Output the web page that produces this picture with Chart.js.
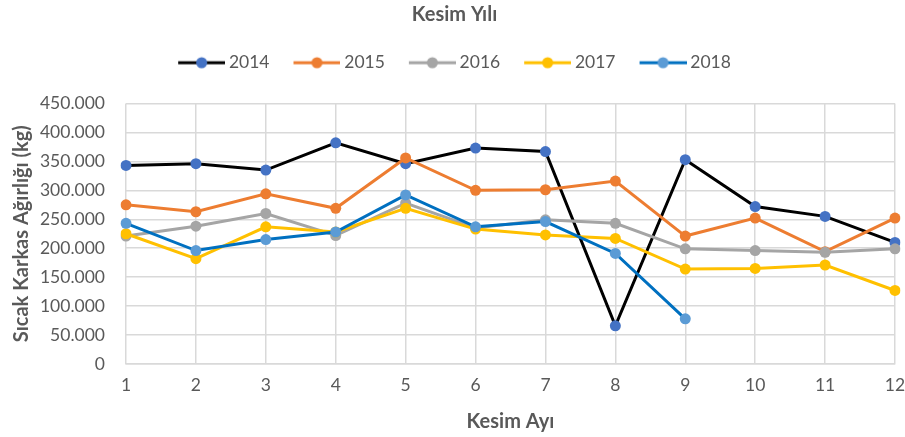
<!DOCTYPE html>
<html>
<head>
<meta charset="utf-8">
<script src="https://cdn.jsdelivr.net/npm/chart.js@4/dist/chart.umd.min.js"></script>
<style>
  html, body { margin: 0; padding: 0; background: #fff; }
  #wrap { width: 905px; height: 437px; }
</style>
</head>
<body>
<div id="wrap"><canvas id="myChart" width="905" height="437"></canvas></div>
<script>
// veriler (kg)
var aylar = ['1', '2', '3', '4', '5', '6', '7', '8', '9', '10', '11', '12'];
var yillar = ['2014', '2015', '2016', '2017', '2018'];
var v2014 = [343, 346, 335, 382, 346, 373, 367, 66, 353, 272, 255, 210];
var v2015 = [275, 263, 294, 269, 356, 300, 301, 316, 221, 252, 194, 252];
var v2016 = [221, 238, 260, 222, 278, 235, 249, 243, 199, 196, 193, 199];
var v2017 = [225, 182, 237, 228, 269, 233, 223, 217, 164, 165, 171, 127];
var v2018 = [243, 196, 215, 228, 292, 237, 246, 191, 78];

var cizgiRenk = ['#000000', '#ED7D31', '#A5A5A5', '#FFC000', '#0070C0'];
var noktaRenk = ['#4472C4', '#ED7D31', '#A5A5A5', '#FFC000', '#5B9BD5'];
var seriler = [v2014, v2015, v2016, v2017, v2018];

var yaziRenk = '#595959';
var font = 'Lato, "Open Sans", sans-serif';

// legend icin cizgi + nokta
function legendIcon(line, dot) {
    var c = document.createElement('canvas');
    c.width = 52; c.height = 14;
    var g = c.getContext('2d');
    g.strokeStyle = line;
    g.lineWidth = 3;
    g.beginPath();
    g.moveTo(5, 7); g.lineTo(52, 7);
    g.stroke();
    g.fillStyle = dot;
    g.beginPath();
    g.arc(28.5, 7, 5.5, 0, Math.PI * 2);
    g.fill();
    return c;
}

// legend ile grafik arasinda bosluk
var legendBosluk = {
    id: 'legendBosluk',
    beforeInit: function (chart) {
        var fitOrig = chart.legend.fit;
        chart.legend.fit = function () {
            fitOrig.bind(chart.legend)();
            this.height += 22;
        };
    }
};

var datasets = [];
for (let i = 0; i < yillar.length; i++) {
    datasets.push({
        label: yillar[i],
        data: seriler[i],
        borderColor: cizgiRenk[i],
        backgroundColor: noktaRenk[i],
        pointBackgroundColor: noktaRenk[i],
        pointBorderColor: noktaRenk[i],
        pointRadius: 5.5,
        pointBorderWidth: 0,
        borderWidth: 3,
        tension: 0,
        order: -i
    });
}

var ctx = document.getElementById('myChart').getContext('2d');
var myChart = new Chart(ctx, {
    type: 'line',
    data: {
        labels: aylar,
        datasets: datasets
    },
    plugins: [legendBosluk],
    options: {
        responsive: false,
        animation: false,
        layout: { padding: { left: 4, right: 0, top: 0, bottom: 3 } },
        plugins: {
            title: {
                display: true,
                text: 'Kesim Yılı',
                color: yaziRenk,
                font: { family: font, size: 20, weight: 'bold' },
                padding: { top: 3, bottom: 3 }
            },
            legend: {
                position: 'top',
                labels: {
                    color: yaziRenk,
                    font: { family: font, size: 17.5 },
                    usePointStyle: true,
                    pointStyleWidth: 42,
                    padding: 24,
                    generateLabels: function (chart) {
                        return chart.data.datasets.map(function (ds, i) {
                            return {
                                text: ds.label,
                                fontColor: yaziRenk,
                                pointStyle: legendIcon(cizgiRenk[i], noktaRenk[i]),
                                datasetIndex: i,
                                hidden: false,
                                lineWidth: 0
                            };
                        });
                    }
                }
            },
            tooltip: { enabled: false }
        },
        scales: {
            x: {
                offset: false,
                grid: { color: '#D9D9D9', lineWidth: 1.5, drawTicks: false },
                border: { color: '#D9D9D9', width: 1.5 },
                ticks: {
                    color: yaziRenk,
                    font: { family: font, size: 17.5 },
                    padding: 11,
                    maxRotation: 0
                },
                title: {
                    display: true,
                    text: 'Kesim Ayı',
                    color: yaziRenk,
                    font: { family: font, size: 20, weight: 'bold' },
                    padding: { top: 3, bottom: 0 }
                },
                afterFit: function (scale) {
                    scale.paddingRight = 10;
                }
            },
            y: {
                min: 0,
                max: 450,
                grid: { color: '#D9D9D9', lineWidth: 1.5, drawTicks: false },
                border: { display: false },
                ticks: {
                    stepSize: 50,
                    color: yaziRenk,
                    font: { family: font, size: 17.5 },
                    padding: 21,
                    callback: function (v) {
                        return v === 0 ? '0' : v.toFixed(3);
                    }
                },
                title: {
                    display: true,
                    text: 'Sıcak Karkas Ağırlığı (kg)',
                    color: yaziRenk,
                    font: { family: font, size: 20, weight: 'bold' },
                    padding: { top: 6, bottom: 5 }
                },
                afterFit: function (scale) {
                    scale.width = 122;
                }
            }
        }
    }
});
</script>
</body>
</html>
